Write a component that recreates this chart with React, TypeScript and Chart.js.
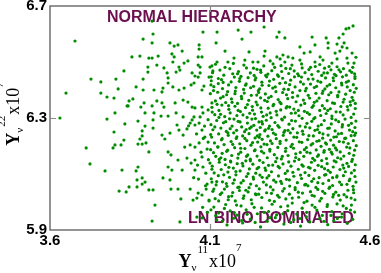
import React, { useEffect, useRef } from "react";
import { Chart, registerables } from "chart.js";

Chart.register(...registerables);

// ---- axis ticks ----
const xTickValues = [3.6, 4.1, 4.6];
const yTickValues = [5.9, 6.3, 6.7];
const xRange = [3.6, 4.6];
const yRange = [5.9, 6.7];

// ---- annotations ----
const topLabel = "NORMAL HIERARCHY";
const bottomLabel = "LN BINO DOMINATED";

// ---- scatter points [Y11 x1e7, Y22 x1e7] ----
const leftSparsePoints: [number, number][] = [
  [3.678,6.575],[3.831,6.468],[3.728,6.439],[3.759,6.429],[3.806,6.439],[3.650,6.389],[3.759,6.389],[3.813,6.404],
  [3.778,6.375],[3.800,6.371],[3.847,6.361],[3.841,6.343],[3.631,6.300],[3.778,6.296],[3.803,6.318],[3.834,6.279],
  [3.800,6.250],[3.713,6.193],[3.797,6.193],[3.803,6.204],[3.822,6.204],[3.831,6.221],[3.725,6.136],[3.772,6.111],
  [3.825,6.114],[3.816,6.039],[3.838,6.036],[3.847,6.054],[3.897,6.318],[3.875,6.289],[3.869,6.111],[3.875,6.125],
  [3.909,6.179],[3.888,6.236],[3.900,6.211],[3.888,6.207],[3.875,6.207],[3.881,6.225],[3.888,6.254],[3.897,6.271],
  [3.922,6.264],[3.922,6.293],[3.872,6.079],[3.888,6.086],[3.897,6.071],[3.872,6.054],[3.888,6.064],[3.909,6.043],
  [3.922,6.043],[3.928,5.989],[3.919,5.932],
  [3.919,6.646],[3.922,6.600],[3.891,6.582],[3.919,6.568],[3.856,6.518],[3.881,6.521],[3.909,6.514],[3.919,6.514],
  [3.938,6.521],[3.906,6.482],[3.934,6.489],[3.891,6.439],[3.906,6.464],[3.869,6.411],[3.891,6.400],[3.925,6.400],
  [3.859,6.368],[3.844,6.343],[3.884,6.339],[3.894,6.354],[3.919,6.343],[3.934,6.361],[3.925,6.318],[3.947,6.307],
];

const transitionPoints: [number, number][] = [
  [3.953,6.086],[3.975,6.079],[3.978,6.046],[4.000,6.046],[4.009,6.011],[4.006,5.929],[4.038,6.046],[4.047,6.007],
  [4.059,6.014],[4.063,6.032],[4.088,6.046],[4.097,6.007],[4.075,6.025],
  [4.078,6.607],[3.975,6.568],[3.988,6.557],[4.000,6.561],[4.066,6.561],[4.013,6.539],[4.066,6.546],[3.981,6.529],
  [3.988,6.518],[3.984,6.500],[4.063,6.518],[4.075,6.518],[3.956,6.479],[4.003,6.482],[4.019,6.496],[4.031,6.504],
  [4.063,6.489],[4.069,6.482],[4.106,6.486],[3.966,6.461],[3.969,6.443],[3.994,6.464],[4.006,6.471],[4.044,6.461],
  [4.053,6.450],[4.063,6.446],[4.069,6.461],[4.097,6.446],[4.109,6.468],[3.950,6.393],[3.953,6.407],[3.969,6.425],
  [3.984,6.411],[4.003,6.400],[4.019,6.407],[4.041,6.418],[4.050,6.425],[4.075,6.400],[4.081,6.414],[4.103,6.418],
  [3.950,6.354],[3.956,6.339],[3.991,6.354],[4.016,6.364],[4.031,6.357],[4.044,6.339],[4.053,6.336],[4.075,6.339],
  [4.078,6.318],[4.094,6.329],[4.106,6.354],[3.969,6.307],[3.994,6.318],[4.016,6.304],[4.050,6.304],
  [3.950,6.239],[3.959,6.225],[3.975,6.246],[3.997,6.275],[4.003,6.257],[4.016,6.239],[4.028,6.261],[4.038,6.282],
  [4.044,6.293],[4.053,6.275],[4.066,6.282],[4.075,6.257],[4.084,6.232],[4.094,6.214],[4.066,6.211],[4.053,6.196],
  [4.038,6.204],[3.969,6.179],[3.978,6.168],[4.000,6.150],[4.028,6.157],[4.041,6.139],[4.053,6.150],[4.075,6.161],
  [4.078,6.125],[4.100,6.139],[3.969,6.125],[3.981,6.114],[4.013,6.114],[4.053,6.114],[4.106,6.071],[4.091,6.064],
  [4.097,6.004],[4.059,5.946],[4.075,5.943],
  [4.083,6.271],[4.091,6.189],[4.072,6.178],[4.087,6.103],[4.064,6.082],[4.095,6.151],[4.079,6.227],[4.058,6.243],
  [4.094,6.294],[4.069,6.304],[4.086,6.058],[4.049,6.087],[4.077,5.981],[4.092,5.963],[4.033,6.272],[4.021,6.196],
  [4.061,6.132],
];

const upperEdgePoints: [number, number][] = [
  [4.122,6.607],[4.188,6.614],[4.228,6.607],[4.269,6.625],[4.200,6.582],[4.316,6.607],[4.309,6.589],[4.334,6.586],
  [4.419,6.589],[4.463,6.586],[4.469,6.568],[4.503,6.586],[4.516,6.600],[4.525,6.618],[4.534,6.621],[4.547,6.629],
  [4.519,6.568],[4.513,6.554],[4.497,6.564],[4.428,6.561],[4.381,6.554],[4.119,6.568],[4.147,6.539],[4.222,6.536],
  [4.272,6.539],[4.269,6.521],[4.309,6.518],[4.328,6.525],[4.344,6.518],[4.394,6.532],[4.413,6.536],[4.444,6.518],
  [4.469,6.550],[4.491,6.532],[4.506,6.539],[4.528,6.550],[4.544,6.532],[4.550,6.496],[4.528,6.514],[4.497,6.511],
  [4.481,6.496],[4.453,6.507],[4.428,6.500],[4.381,6.507],[4.359,6.514],[4.334,6.500],[4.319,6.511],[4.288,6.504],
  [4.250,6.500],[4.234,6.500],[4.209,6.507],[4.175,6.514],[4.156,6.500],[4.122,6.500],[4.100,6.482],
];

const denseUpperPoints: [number, number][] = [
  [4.108,6.462],[4.131,6.471],[4.143,6.453],[4.162,6.476],[4.171,6.458],[4.189,6.466],[4.197,6.449],[4.214,6.479],
  [4.226,6.461],[4.238,6.452],[4.247,6.474],[4.259,6.463],[4.268,6.486],[4.281,6.457],[4.293,6.469],[4.302,6.481],
  [4.311,6.454],[4.324,6.466],[4.337,6.477],[4.346,6.459],[4.356,6.489],[4.363,6.468],[4.377,6.451],[4.388,6.479],
  [4.397,6.462],[4.409,6.473],[4.418,6.455],[4.429,6.484],[4.438,6.467],[4.449,6.452],[4.458,6.478],[4.467,6.461],
  [4.478,6.472],[4.489,6.456],[4.497,6.483],[4.508,6.465],[4.517,6.476],[4.526,6.453],[4.537,6.469],[4.546,6.481],
  [4.552,6.458],
  [4.104,6.433],[4.112,6.412],[4.126,6.441],[4.139,6.405],[4.141,6.427],[4.158,6.418],[4.176,6.446],[4.181,6.409],
  [4.192,6.431],[4.205,6.402],[4.213,6.422],[4.219,6.444],[4.236,6.413],[4.241,6.436],[4.255,6.404],[4.262,6.428],
  [4.277,6.447],[4.284,6.416],[4.296,6.407],[4.299,6.438],[4.318,6.424],[4.327,6.442],[4.331,6.403],[4.349,6.419],
  [4.352,6.435],[4.366,6.411],[4.383,6.429],[4.386,6.446],[4.401,6.406],[4.414,6.421],[4.422,6.439],[4.433,6.413],
  [4.446,6.428],[4.459,6.404],[4.461,6.443],[4.474,6.419],[4.486,6.433],[4.493,6.408],[4.511,6.425],[4.514,6.447],
  [4.529,6.411],[4.533,6.432],[4.548,6.419],[4.553,6.441],
  [4.101,6.387],[4.117,6.361],[4.124,6.392],[4.133,6.371],[4.149,6.355],[4.152,6.383],[4.167,6.368],[4.179,6.396],
  [4.186,6.352],[4.198,6.377],[4.207,6.389],[4.221,6.363],[4.229,6.381],[4.244,6.357],[4.251,6.398],[4.258,6.372],
  [4.273,6.386],[4.279,6.359],[4.291,6.377],[4.306,6.394],[4.313,6.366],[4.322,6.351],[4.339,6.383],[4.343,6.369],
  [4.358,6.391],[4.369,6.358],[4.374,6.379],[4.392,6.364],[4.398,6.397],[4.407,6.381],[4.426,6.356],[4.431,6.388],
  [4.441,6.371],[4.453,6.396],[4.466,6.362],[4.471,6.383],[4.483,6.354],[4.499,6.376],[4.503,6.393],[4.519,6.367],
  [4.524,6.385],[4.538,6.358],[4.544,6.374],[4.551,6.392],
  [4.106,6.338],[4.115,6.312],[4.128,6.327],[4.137,6.346],[4.146,6.305],[4.159,6.331],[4.163,6.318],[4.178,6.342],
  [4.184,6.309],[4.195,6.323],[4.211,6.337],[4.216,6.302],[4.233,6.328],[4.239,6.314],[4.248,6.347],[4.261,6.321],
  [4.266,6.306],[4.282,6.335],[4.288,6.318],[4.297,6.344],[4.309,6.311],[4.321,6.329],[4.333,6.303],[4.341,6.341],
  [4.354,6.317],[4.362,6.332],[4.378,6.308],[4.384,6.346],[4.395,6.324],[4.411,6.313],[4.419,6.338],[4.428,6.301],
  [4.443,6.327],[4.451,6.344],[4.463,6.316],[4.476,6.333],[4.481,6.307],[4.494,6.322],[4.509,6.341],[4.516,6.311],
  [4.531,6.329],[4.539,6.346],[4.549,6.314],[4.554,6.334],
];

const denseMiddlePoints: [number, number][] = [
  [4.103,6.276],[4.109,6.258],[4.121,6.291],[4.134,6.264],[4.142,6.283],[4.151,6.252],[4.161,6.297],[4.169,6.271],
  [4.183,6.256],[4.188,6.288],[4.199,6.268],[4.208,6.251],[4.217,6.282],[4.224,6.263],[4.231,6.296],[4.237,6.274],
  [4.246,6.257],[4.253,6.286],[4.257,6.266],[4.264,6.279],[4.271,6.254],[4.276,6.292],[4.286,6.271],[4.294,6.259],
  [4.303,6.284],[4.316,6.267],[4.326,6.293],[4.334,6.255],[4.347,6.278],[4.359,6.262],[4.367,6.289],[4.381,6.271],
  [4.389,6.253],[4.403,6.281],[4.412,6.265],[4.424,6.297],[4.436,6.259],[4.448,6.276],[4.457,6.291],[4.468,6.263],
  [4.479,6.279],[4.491,6.254],[4.502,6.287],[4.513,6.268],[4.522,6.296],[4.536,6.257],[4.542,6.281],[4.553,6.266],
  [4.105,6.232],[4.114,6.211],[4.127,6.243],[4.136,6.222],[4.144,6.205],[4.157,6.238],[4.166,6.216],[4.174,6.247],
  [4.182,6.227],[4.193,6.208],[4.202,6.236],[4.215,6.219],[4.222,6.244],[4.228,6.203],[4.241,6.229],[4.249,6.214],
  [4.256,6.241],[4.263,6.224],[4.269,6.207],[4.281,6.235],[4.289,6.218],[4.298,6.246],[4.307,6.226],[4.319,6.209],
  [4.329,6.238],[4.338,6.221],[4.351,6.247],[4.357,6.206],[4.371,6.231],[4.379,6.215],[4.391,6.242],[4.405,6.223],
  [4.416,6.204],[4.423,6.236],[4.434,6.217],[4.442,6.248],[4.452,6.228],[4.461,6.211],[4.469,6.239],[4.477,6.221],
  [4.486,6.203],[4.495,6.233],[4.504,6.216],[4.511,6.245],[4.521,6.227],[4.532,6.209],[4.541,6.237],[4.548,6.219],
  [4.555,6.246],
  [4.102,6.187],[4.118,6.163],[4.125,6.196],[4.138,6.174],[4.147,6.152],[4.155,6.185],[4.168,6.166],[4.177,6.194],
  [4.187,6.157],[4.196,6.178],[4.209,6.191],[4.218,6.168],[4.226,6.153],[4.239,6.183],[4.247,6.164],[4.259,6.197],
  [4.268,6.175],[4.279,6.158],[4.287,6.188],[4.301,6.169],[4.312,6.195],[4.323,6.154],[4.336,6.181],[4.344,6.166],
  [4.361,6.192],[4.368,6.159],[4.382,6.177],[4.393,6.163],[4.401,6.194],[4.413,6.175],[4.421,6.156],[4.432,6.186],
  [4.439,6.168],[4.447,6.199],[4.456,6.178],[4.464,6.155],[4.473,6.188],[4.482,6.171],[4.492,6.193],[4.499,6.158],
  [4.507,6.179],[4.518,6.164],[4.527,6.196],[4.535,6.174],[4.545,6.152],[4.552,6.185],
  [4.107,6.128],[4.113,6.104],[4.129,6.142],[4.135,6.116],[4.148,6.133],[4.156,6.107],[4.164,6.146],[4.173,6.121],
  [4.185,6.137],[4.194,6.111],[4.203,6.129],[4.212,6.147],[4.223,6.118],[4.234,6.135],[4.243,6.103],[4.252,6.124],
  [4.266,6.141],[4.274,6.113],[4.283,6.131],[4.292,6.108],[4.305,6.144],[4.317,6.122],[4.328,6.136],[4.342,6.111],
  [4.353,6.128],[4.364,6.146],[4.376,6.117],[4.387,6.133],[4.397,6.105],[4.408,6.124],[4.417,6.142],[4.427,6.113],
  [4.438,6.131],[4.449,6.148],[4.458,6.119],[4.466,6.137],[4.476,6.106],[4.485,6.125],[4.494,6.143],[4.506,6.116],
  [4.515,6.132],[4.523,6.108],[4.533,6.127],[4.543,6.145],[4.551,6.113],
];

const denseLowerPoints: [number, number][] = [
  [4.104,6.083],[4.119,6.061],[4.126,6.094],[4.139,6.072],[4.153,6.056],[4.161,6.088],[4.172,6.067],[4.181,6.097],
  [4.191,6.053],[4.204,6.076],[4.214,6.091],[4.227,6.064],[4.236,6.082],[4.245,6.058],[4.256,6.096],[4.267,6.071],
  [4.278,6.086],[4.289,6.054],[4.299,6.078],[4.314,6.093],[4.324,6.066],[4.339,6.081],[4.349,6.057],[4.362,6.092],
  [4.373,6.069],[4.386,6.084],[4.396,6.061],[4.409,6.095],[4.418,6.074],[4.431,6.052],[4.441,6.087],[4.453,6.066],
  [4.462,6.098],[4.471,6.077],[4.483,6.059],[4.496,6.089],[4.505,6.071],[4.517,6.094],[4.528,6.063],[4.537,6.082],
  [4.547,6.056],[4.553,6.091],
  [4.109,6.038],[4.116,6.012],[4.132,6.027],[4.145,6.046],[4.158,6.019],[4.171,6.034],[4.179,6.004],[4.192,6.041],
  [4.206,6.022],[4.219,6.036],[4.229,6.008],[4.242,6.029],[4.254,6.047],[4.262,6.016],[4.277,6.033],[4.286,6.006],
  [4.297,6.043],[4.311,6.024],[4.327,6.039],[4.337,6.011],[4.348,6.028],[4.366,6.044],[4.377,6.017],[4.389,6.032],
  [4.403,6.003],[4.414,6.037],[4.426,6.021],[4.437,6.045],[4.448,6.013],[4.459,6.031],[4.472,6.049],[4.484,6.018],
  [4.493,6.035],[4.507,6.007],[4.519,6.026],[4.531,6.042],[4.541,6.014],[4.549,6.033],
  [4.112,5.982],[4.127,5.961],[4.149,5.991],[4.163,5.968],[4.184,5.953],[4.197,5.986],[4.213,5.972],[4.231,5.994],
  [4.248,5.958],[4.261,5.979],[4.283,5.966],[4.294,5.992],[4.308,5.954],[4.321,5.983],[4.343,5.969],[4.357,5.996],
  [4.371,5.957],[4.388,5.978],[4.402,5.963],[4.419,5.989],[4.434,5.971],[4.451,5.952],[4.466,5.984],[4.481,5.966],
  [4.497,5.993],[4.513,5.958],[4.526,5.977],[4.542,5.989],[4.552,5.964],
  [4.121,5.936],[4.153,5.918],[4.174,5.942],[4.202,5.925],[4.226,5.939],[4.258,5.911],[4.279,5.931],[4.304,5.944],
  [4.331,5.921],[4.362,5.937],[4.383,5.914],[4.412,5.929],[4.443,5.941],[4.468,5.919],[4.487,5.933],[4.511,5.946],
  [4.529,5.924],[4.546,5.938],
];

const denseFillPoints: [number, number][] = [
  [4.117,6.492],[4.104,6.447],[4.126,6.423],[4.111,6.398],[4.122,6.349],[4.107,6.321],[4.128,6.302],[4.115,6.268],
  [4.102,6.241],[4.124,6.197],[4.111,6.176],[4.129,6.152],[4.106,6.117],[4.121,6.073],[4.112,6.046],[4.127,6.004],
  [4.103,5.972],[4.118,5.951],
  [4.147,6.481],[4.136,6.437],[4.155,6.394],[4.141,6.376],[4.158,6.344],[4.133,6.313],[4.149,6.287],[4.156,6.247],
  [4.138,6.226],[4.152,6.181],[4.134,6.158],[4.159,6.124],[4.143,6.097],[4.151,6.066],[4.137,6.033],[4.157,6.008],
  [4.145,5.977],[4.139,5.932],
  [4.173,6.495],[4.186,6.458],[4.166,6.429],[4.178,6.387],[4.169,6.356],[4.188,6.327],[4.175,6.296],[4.163,6.262],
  [4.184,6.233],[4.171,6.206],[4.189,6.171],[4.165,6.143],[4.181,6.109],[4.176,6.079],[4.187,6.052],[4.168,6.021],
  [4.183,5.989],[4.176,5.962],
  [4.206,6.489],[4.193,6.441],[4.211,6.417],[4.199,6.369],[4.217,6.348],[4.203,6.311],[4.194,6.286],[4.213,6.259],
  [4.209,6.227],[4.196,6.192],[4.214,6.163],[4.201,6.138],[4.219,6.101],[4.197,6.068],[4.212,6.042],[4.204,6.013],
  [4.216,5.956],[4.199,5.934],
  [4.236,6.478],[4.243,6.443],[4.227,6.408],[4.246,6.382],[4.232,6.341],[4.224,6.317],[4.242,6.298],[4.229,6.268],
  [4.248,6.236],[4.233,6.212],[4.241,6.186],[4.226,6.147],[4.247,6.119],[4.235,6.089],[4.222,6.051],[4.244,6.026],
  [4.238,5.981],[4.241,5.927],
  [4.258,6.471],[4.274,6.452],[4.263,6.417],[4.252,6.391],[4.271,6.363],[4.259,6.336],[4.277,6.311],[4.262,6.287],
  [4.273,6.258],[4.254,6.231],[4.278,6.205],[4.261,6.181],[4.255,6.149],[4.272,6.121],[4.263,6.088],[4.276,6.061],
  [4.252,6.028],[4.269,5.963],
  [4.297,6.493],[4.286,6.432],[4.304,6.411],[4.283,6.372],[4.299,6.349],[4.307,6.324],[4.291,6.301],[4.283,6.263],
  [4.305,6.241],[4.294,6.209],[4.287,6.182],[4.309,6.157],[4.296,6.132],[4.284,6.094],[4.306,6.071],[4.292,6.031],
  [4.301,6.002],[4.287,5.944],
  [4.322,6.487],[4.314,6.449],[4.336,6.426],[4.327,6.391],[4.318,6.357],[4.338,6.336],[4.324,6.296],[4.312,6.273],
  [4.331,6.249],[4.319,6.217],[4.337,6.192],[4.326,6.163],[4.313,6.127],[4.335,6.102],[4.321,6.074],[4.332,6.048],
  [4.316,6.017],[4.328,5.958],
  [4.351,6.476],[4.364,6.447],[4.345,6.402],[4.358,6.374],[4.349,6.339],[4.367,6.318],[4.355,6.291],[4.344,6.256],
  [4.362,6.232],[4.353,6.198],[4.368,6.172],[4.346,6.143],[4.359,6.106],[4.348,6.079],[4.366,6.051],[4.357,6.014],
  [4.343,5.986],[4.352,5.927],
  [4.386,6.493],[4.374,6.458],[4.392,6.421],[4.381,6.398],[4.396,6.352],[4.376,6.327],[4.388,6.299],[4.398,6.268],
  [4.373,6.247],[4.387,6.213],[4.395,6.187],[4.378,6.152],[4.391,6.128],[4.383,6.096],[4.399,6.063],[4.376,6.035],
  [4.394,5.998],[4.381,5.941],
  [4.414,6.481],[4.407,6.439],[4.426,6.409],[4.411,6.371],[4.423,6.344],[4.404,6.319],[4.418,6.288],[4.428,6.256],
  [4.409,6.237],[4.421,6.209],[4.403,6.178],[4.427,6.149],[4.413,6.121],[4.424,6.083],[4.406,6.058],[4.419,6.024],
  [4.428,5.981],[4.401,5.947],
  [4.443,6.491],[4.456,6.461],[4.437,6.432],[4.451,6.388],[4.434,6.361],[4.458,6.334],[4.446,6.309],[4.438,6.271],
  [4.453,6.243],[4.441,6.219],[4.457,6.184],[4.436,6.163],[4.449,6.126],[4.458,6.096],[4.437,6.069],[4.452,6.038],
  [4.443,6.004],[4.456,5.931],
  [4.472,6.484],[4.485,6.443],[4.466,6.414],[4.478,6.391],[4.489,6.352],[4.468,6.327],[4.481,6.298],[4.473,6.264],
  [4.487,6.232],[4.464,6.207],[4.479,6.178],[4.488,6.147],[4.469,6.113],[4.483,6.087],[4.474,6.053],[4.486,6.027],
  [4.467,5.991],[4.478,5.952],
  [4.503,6.472],[4.494,6.451],[4.512,6.418],[4.499,6.381],[4.516,6.357],[4.507,6.321],[4.493,6.293],[4.514,6.276],
  [4.501,6.243],[4.517,6.214],[4.496,6.186],[4.509,6.154],[4.518,6.121],[4.497,6.093],[4.511,6.062],[4.502,6.024],
  [4.516,5.986],[4.498,5.941],
  [4.531,6.496],[4.543,6.463],[4.526,6.428],[4.538,6.398],[4.547,6.363],[4.529,6.341],[4.541,6.302],[4.533,6.274],
  [4.546,6.251],[4.524,6.228],[4.537,6.193],[4.549,6.167],[4.528,6.138],[4.542,6.104],[4.535,6.076],[4.548,6.044],
  [4.527,6.018],[4.539,5.971],
  [4.556,6.517],[4.553,6.448],[4.557,6.406],[4.554,6.352],[4.556,6.289],[4.552,6.238],[4.557,6.201],[4.554,6.133],
  [4.556,6.071],[4.553,6.008],
];

const allPoints = [
  ...leftSparsePoints,
  ...transitionPoints,
  ...upperEdgePoints,
  ...denseUpperPoints,
  ...denseMiddlePoints,
  ...denseLowerPoints,
  ...denseFillPoints,
].map(([x, y]) => ({ x, y }));

const SERIF = '"Liberation Serif", "Times New Roman", serif';
const SANS = '"Liberation Sans", Arial, sans-serif';

type Part = { t: string; font: string; dy: number; gap?: number };

function titleParts(sup: string): Part[] {
  return [
    { t: "Y", font: `bold 18px ${SERIF}`, dy: 0 },
    { t: "\u03bd", font: `11px ${SERIF}`, dy: 4, gap: 0 },
    { t: sup, font: `11px ${SERIF}`, dy: -14, gap: 1 },
    { t: "x10", font: `18px ${SERIF}`, dy: 0, gap: 1 },
    { t: "7", font: `11px ${SERIF}`, dy: -16, gap: 0 },
  ];
}

function drawParts(ctx: CanvasRenderingContext2D, parts: Part[]) {
  let total = 0;
  const widths = parts.map((p) => {
    ctx.font = p.font;
    const w = ctx.measureText(p.t).width + (p.gap || 0);
    total += w;
    return w;
  });
  let x = -total / 2;
  parts.forEach((p, i) => {
    ctx.font = p.font;
    x += p.gap || 0;
    ctx.fillText(p.t, x, p.dy);
    x += widths[i] - (p.gap || 0);
  });
}

const overlayPlugin = {
  id: "overlay",
  beforeDatasetsDraw(chart: any) {
    const { ctx, scales } = chart;
    ctx.save();
    ctx.fillStyle = "#6b0f4f";
    ctx.font = `bold 16px ${SANS}`;
    ctx.textAlign = "left";
    ctx.textBaseline = "alphabetic";
    ctx.fillText(topLabel, scales.x.getPixelForValue(3.778), scales.y.getPixelForValue(6.643));
    ctx.fillText(bottomLabel, scales.x.getPixelForValue(4.031), scales.y.getPixelForValue(5.925));
    ctx.restore();
  },
  afterDraw(chart: any) {
    const { ctx, chartArea: a, scales } = chart;
    ctx.save();
    ctx.strokeStyle = "#707070";
    ctx.lineWidth = 1.5;
    ctx.strokeRect(a.left, a.top, a.right - a.left, a.bottom - a.top);
    ctx.strokeStyle = "#8a8a8a";
    ctx.lineWidth = 1.2;
    const tl = 6;
    xTickValues.slice(1, -1).forEach((v) => {
      const px = Math.round(scales.x.getPixelForValue(v)) + 0.5;
      ctx.beginPath();
      ctx.moveTo(px, a.bottom);
      ctx.lineTo(px, a.bottom - tl);
      ctx.moveTo(px, a.top);
      ctx.lineTo(px, a.top + tl);
      ctx.stroke();
    });
    yTickValues.slice(1, -1).forEach((v) => {
      const py = Math.round(scales.y.getPixelForValue(v)) + 0.5;
      ctx.beginPath();
      ctx.moveTo(a.left, py);
      ctx.lineTo(a.left + tl, py);
      ctx.moveTo(a.right, py);
      ctx.lineTo(a.right - tl, py);
      ctx.stroke();
    });
    ctx.fillStyle = "#000";
    ctx.textAlign = "left";
    ctx.textBaseline = "alphabetic";
    ctx.save();
    ctx.translate((a.left + a.right) / 2, 267);
    drawParts(ctx, titleParts("11"));
    ctx.restore();
    ctx.save();
    ctx.translate(19, (a.top + a.bottom) / 2 - 4);
    ctx.rotate(-Math.PI / 2);
    drawParts(ctx, titleParts("22"));
    ctx.restore();
    ctx.restore();
  },
};

export default function App() {
  const ref = useRef<HTMLCanvasElement>(null);
  useEffect(() => {
    document.body.style.margin = "0";
    const canvas = ref.current!;
    const chart = new Chart(canvas, {
      type: "scatter",
      data: {
        datasets: [
          {
            data: allPoints,
            backgroundColor: "#008c00",
            borderWidth: 0,
            pointRadius: 1.6,
            pointHoverRadius: 1.6,
          },
        ],
      },
      options: {
        animation: false,
        responsive: false,
        events: [],
        layout: { padding: { top: 6, right: 11, left: 0, bottom: 0 } },
        plugins: { legend: { display: false }, tooltip: { enabled: false } },
        scales: {
          x: {
            type: "linear",
            min: xRange[0],
            max: xRange[1],
            grid: { display: false, drawTicks: false },
            border: { display: false },
            afterBuildTicks: (s: any) => {
              s.ticks = xTickValues.map((v) => ({ value: v }));
            },
            afterFit: (s: any) => {
              s.height = 43;
              s.paddingLeft = 0;
              s.paddingRight = 0;
            },
            ticks: {
              color: "#000",
              padding: 2,
              maxRotation: 0,
              autoSkip: false,
              font: { family: SANS, size: 15, weight: "bold" },
              callback: (v: any) => Number(v).toFixed(1),
            },
          },
          y: {
            type: "linear",
            min: yRange[0],
            max: yRange[1],
            grid: { display: false, drawTicks: false },
            border: { display: false },
            afterBuildTicks: (s: any) => {
              s.ticks = yTickValues.map((v) => ({ value: v }));
            },
            afterFit: (s: any) => {
              s.width = 50;
              s.paddingTop = 0;
              s.paddingBottom = 0;
            },
            ticks: {
              color: "#000",
              padding: 3,
              autoSkip: false,
              font: { family: SANS, size: 15, weight: "bold" },
              callback: (v: any) => Number(v).toFixed(1),
            },
          },
        },
      },
      plugins: [overlayPlugin],
    });
    return () => chart.destroy();
  }, []);
  return (
    <div style={{ width: 381, height: 273 }}>
      <canvas ref={ref} width={381} height={273} />
    </div>
  );
}
